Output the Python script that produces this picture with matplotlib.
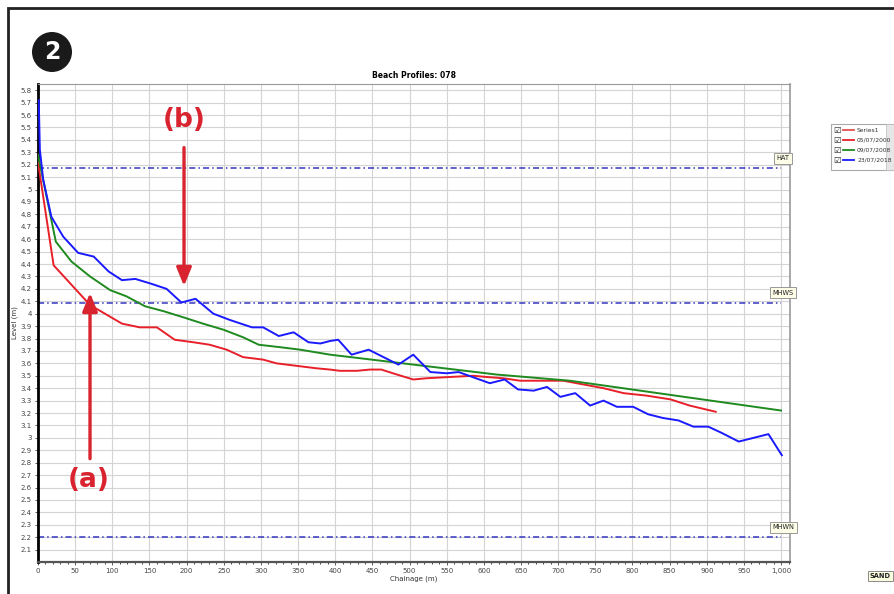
import matplotlib.pyplot as plt
import matplotlib.ticker as mticker
from matplotlib.patches import Rectangle, Circle
from matplotlib.lines import Line2D

# profile data (chainage m, level m)
red_x = [0, 21, 70, 113, 137, 160, 184, 209, 231, 254, 276, 303, 321, 348, 375, 393, 406, 429,
         447, 462, 483, 505, 523, 554, 586, 604, 626, 649, 680, 707, 734, 761, 788, 819, 851, 877, 912]
red_y = [5.22, 4.39, 4.07, 3.92, 3.89, 3.89, 3.79, 3.77, 3.75, 3.71, 3.65, 3.63, 3.60, 3.58, 3.56, 3.55, 3.54, 3.54,
         3.55, 3.55, 3.51, 3.47, 3.48, 3.49, 3.50, 3.49, 3.48, 3.46, 3.46, 3.46, 3.43, 3.40, 3.36, 3.34, 3.31, 3.26, 3.21]

green_x = [0, 24, 45, 70, 97, 119, 144, 169, 196, 222, 250, 276, 297, 326, 353, 393, 505, 617, 716, 1000]
green_y = [5.28, 4.58, 4.42, 4.30, 4.19, 4.14, 4.06, 4.02, 3.97, 3.92, 3.87, 3.81, 3.75, 3.73, 3.71, 3.67, 3.59, 3.51, 3.46, 3.22]

blue_x = [1, 2.5, 7, 18, 34, 54, 75, 95, 113, 131, 153, 173, 193, 212, 236, 258, 288, 303, 324, 344, 364, 380,
          393, 404, 422, 445, 485, 505, 528, 550, 566, 608, 628, 646, 667, 685, 703, 723, 743, 761, 779, 801,
          821, 841, 862, 882, 902, 920, 943, 983, 1001]
blue_y = [5.72, 5.32, 5.08, 4.78, 4.62, 4.49, 4.46, 4.34, 4.27, 4.28, 4.24, 4.20, 4.09, 4.12, 4.00, 3.95, 3.89, 3.89,
          3.82, 3.85, 3.77, 3.76, 3.78, 3.79, 3.67, 3.71, 3.59, 3.67, 3.53, 3.52, 3.53, 3.44, 3.47, 3.39, 3.38, 3.41,
          3.33, 3.36, 3.26, 3.30, 3.25, 3.25, 3.19, 3.16, 3.14, 3.09, 3.09, 3.04, 2.97, 3.03, 2.86]

# tidal levels
level_names = ['HAT', 'MHWS', 'MHWN']
level_values = [5.17, 4.09, 2.2]

legend_labels = ['Series1', '05/07/2000', '09/07/2008', '23/07/2018']
legend_colors = ['#e05050', '#e8202a', '#1f8a1f', '#1a1aff']

W, H = 894, 594
fig = plt.figure(figsize=(W / 100, H / 100), dpi=100)
ax = fig.add_axes([38 / W, 1 - 562 / H, (790 - 38) / W, (562 - 84) / H])

ax.plot(red_x, red_y, color='#e8202a', lw=1.4, zorder=3)
ax.plot(green_x, green_y, color='#1f8a1f', lw=1.4, zorder=3)
ax.plot(blue_x, blue_y, color='#1a1aff', lw=1.4, zorder=3)

for name, val in zip(level_names, level_values):
    ax.plot([0, 1000], [val, val], color='#3535c0', lw=1.1, ls=(0, (4, 2, 1, 2)))
    ax.text(1003, val + 0.08, name, fontsize=4.8, ha='center', va='center', color='#222222',
            bbox=dict(boxstyle='square,pad=0.35', fc='#fdfde8', ec='#888888', lw=0.6))

ax.set_xlim(0, 1012)
ax.set_ylim(2.0, 5.85)
ax.xaxis.set_major_locator(mticker.MultipleLocator(50))
ax.xaxis.set_minor_locator(mticker.MultipleLocator(10))
ax.xaxis.set_major_formatter(mticker.FuncFormatter(lambda v, p: f'{v:,.0f}'))
ax.set_yticks([round(2.1 + 0.1 * i, 1) for i in range(38)])
ax.yaxis.set_major_formatter(mticker.FuncFormatter(lambda v, p: f'{v:g}'))
ax.tick_params(labelsize=5, colors='#444444', length=2.5, width=0.6, pad=2)
ax.tick_params(which='minor', length=1.5, width=0.5)
ax.grid(True, color='#d4d4d4', lw=0.8)
ax.set_axisbelow(True)
ax.spines['left'].set_linewidth(2)
ax.spines['left'].set_color('black')
ax.spines['bottom'].set_linewidth(1.6)
ax.spines['bottom'].set_color('#555555')
ax.spines['top'].set_color('#999999')
ax.spines['right'].set_color('#999999')
ax.spines['right'].set_linewidth(1.2)

ax.set_title('Beach Profiles: 078', fontsize=5.5, fontweight='bold', pad=4)
ax.set_xlabel('Chainage (m)', fontsize=5, color='#333333', labelpad=1)
ax.set_ylabel('Level (m)', fontsize=5, color='#333333', labelpad=2)

# annotations
red_ann = '#d9232e'
ax.annotate('', xy=(196.5, 4.2), xytext=(196.5, 5.36),
            arrowprops=dict(arrowstyle='-|>,head_width=0.45,head_length=1.1', color=red_ann, lw=2.4))
ax.text(196.5, 5.56, '(b)', color=red_ann, fontsize=19, fontweight='bold', ha='center', va='center')
ax.annotate('', xy=(70, 4.19), xytext=(70, 2.81),
            arrowprops=dict(arrowstyle='-|>,head_width=0.45,head_length=1.1', color=red_ann, lw=2.4))
ax.text(68, 2.66, '(a)', color=red_ann, fontsize=19, fontweight='bold', ha='center', va='center')

# outer frame and badge
fig.patches.append(Rectangle((8 / W, -0.1), 1.2, 1 - 8 / H + 0.1, transform=fig.transFigure,
                             fill=False, ec='#222222', lw=2))
badge = Circle((52 / 100, (H - 52) / 100), 20 / 100, transform=fig.dpi_scale_trans, fc='#1a1a1a', ec='none')
fig.patches.append(badge)
fig.text(52 / W, 1 - 52 / H, '2', color='white', fontsize=17, fontweight='bold', ha='center', va='center')

# legend panel
fig.patches.append(Rectangle((831 / W, 1 - 170 / H), 70 / W, 46 / H, transform=fig.transFigure,
                             fc='white', ec='#aaaaaa', lw=0.8))
fig.patches.append(Rectangle((886 / W, 1 - 170 / H), 10 / W, 46 / H, transform=fig.transFigure,
                             fc='#e6e6e6', ec='#bbbbbb', lw=0.5))
for i, (lab, col) in enumerate(zip(legend_labels, legend_colors)):
    yy = 1 - (130 + 10 * i) / H
    fig.text(833 / W, yy, '\u2611', fontsize=6, va='center', ha='left', color='#222222')
    fig.lines.append(Line2D([843 / W, 854 / W], [yy, yy], transform=fig.transFigure, color=col, lw=1.3))
    fig.text(857 / W, yy, lab, fontsize=4.3, va='center', ha='left', color='#333333')

fig.text(891 / W, 1 - 576 / H, 'SAND', fontsize=4.8, va='center', ha='right', fontweight='bold',
         color='#222222', bbox=dict(boxstyle='square,pad=0.3', fc='#fdfde0', ec='#777777', lw=0.6))

fig.savefig('out.png', dpi=100)
